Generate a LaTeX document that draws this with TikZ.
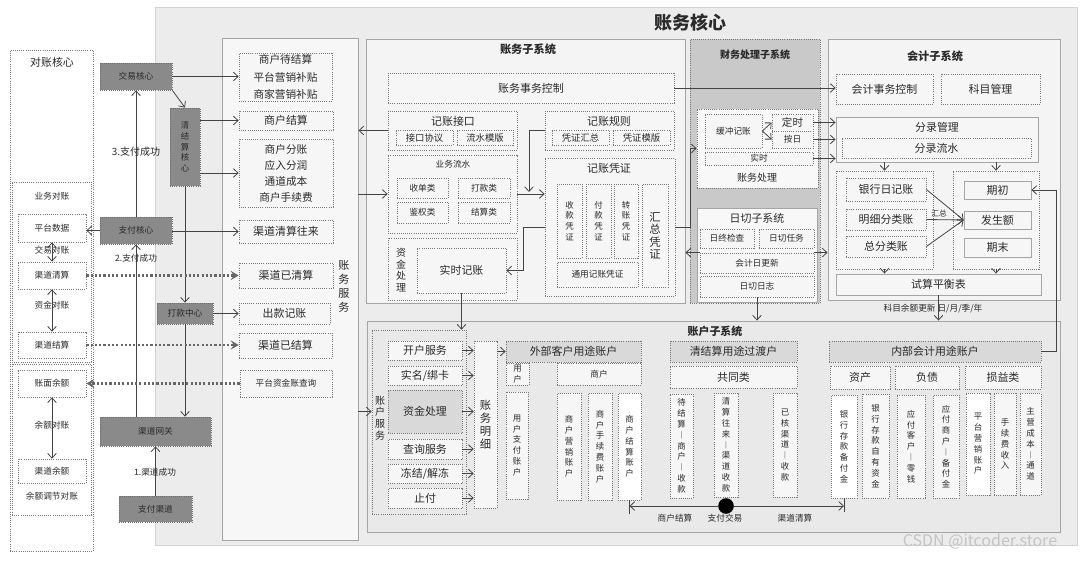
\documentclass[tikz,border=0pt]{standalone}
\usepackage{fontspec}
\setmainfont{Noto Sans CJK SC}
\usetikzlibrary{arrows.meta}
\definecolor{cMain}{HTML}{ECECEC}
\definecolor{cMainB}{HTML}{D2D2D2}
\definecolor{cPanel}{HTML}{F7F7F7}
\definecolor{cSub}{HTML}{F4F4F4}
\definecolor{cFin}{HTML}{C9C9C9}
\definecolor{cAcct}{HTML}{E9E9E9}
\definecolor{cBox}{HTML}{F6F6F6}
\definecolor{cBox2}{HTML}{F8F8F8}
\definecolor{cHead}{HTML}{D9D9D9}
\definecolor{cGray}{HTML}{8A8A8A}
\definecolor{cGB}{HTML}{6E6E6E}
\definecolor{cDB}{HTML}{777777}
\definecolor{cSB}{HTML}{A5A5A5}
\definecolor{cT}{HTML}{2A2A2A}
\definecolor{cL}{HTML}{444444}
\definecolor{cL2}{HTML}{666666}
\definecolor{cWM}{HTML}{C4C4C4}
\newcommand\bx[7][]{%
  \pgfmathsetmacro\mybw{(#5-#3)*0.75}%
  \pgfmathsetmacro\mybh{(#6-#4)*0.75}%
  \node[#1,minimum width=\mybw pt,minimum height=\mybh pt] (#2) at ({(#3+#5)/2},{(#4+#6)/2}) {#7};}
\begin{document}
\begin{tikzpicture}[x=0.75pt,y=-0.75pt,
  every node/.style={align=center,inner sep=0pt,text=cT},
  dbox/.style={draw=cDB,densely dotted,line width=0.6pt,fill=cBox},
  sbox/.style={draw=cSB,line width=0.7pt,fill=cBox},
  gbox/.style={draw=cGB,densely dotted,line width=0.6pt,fill=cGray,font=\fontsize{6.5}{8}\selectfont},
  arr/.style={draw=cL,line width=0.6pt,-{Straight Barb[length=3.5pt,width=6.5pt]}},
  darr/.style={draw=cL,line width=0.6pt,{Straight Barb[length=3.5pt,width=6.5pt]}-{Straight Barb[length=3.5pt,width=6.5pt]}},
  thk/.style={draw=cL2,line width=1.6pt,dash pattern=on 1.6pt off 1.6pt,-{Stealth[length=6pt,width=7pt,inset=2.5pt]}},
  fa/.style={font=\fontsize{6.5}{8}\selectfont},
  fb/.style={font=\fontsize{8.2}{10}\selectfont},
  fc/.style={font=\fontsize{7}{8.5}\selectfont},
  fv/.style={font=\fontsize{6.3}{8.1}\selectfont},
  dot/.style={circle,fill=black,minimum size=11.7pt,inner sep=0pt}
]
\useasboundingbox (0,0) rectangle (1080,561);
\fill[white] (0,0) rectangle (1080,561);

% ===== main frame
\bx[draw=cMainB,fill=cMain,line width=0.7pt]{core}{155}{7}{1077}{545}{}
\node[font=\fontsize{13.5}{16}\selectfont\bfseries] (coreT) at (690,23) {账务核心};

% ===== left panel
\bx[dbox,fill=white]{recon}{10}{50}{93}{551}{}
\node[fb] (reconT) at (52,62) {对账核心};
\bx[dbox,fill=white]{biz}{12}{182}{91}{362}{}
\bx[dbox,fill=white]{bal}{12}{364}{91}{515}{}
\node[fa] (bizT) at (52,196) {业务对账};
\bx[dbox,fill=white,fa]{pd}{18}{214}{86}{242}{平台数据}
\bx[dbox,fill=white,fa]{qs}{18}{262}{86}{289}{渠道清算}
\bx[dbox,fill=white,fa]{js}{18}{332}{86}{358}{渠道结算}
\bx[dbox,fill=white,fa]{zm}{18}{370}{86}{397}{账面余额}
\bx[dbox,fill=white,fa]{qy}{18}{459}{86}{483}{渠道余额}
\draw[darr] (pd.south) -- (qs.north);
\draw[darr] (qs.south) -- (js.north);
\draw[darr] (zm.south) -- (qy.north);
\node[fa] (l1) at (52,250) {交易对账};
\node[fa] (l2) at (52,305) {资金对账};
\node[fa] (l3) at (52,425) {余额对账};
\node[fa] (l4) at (52,496) {余额调节对账};

% ===== gray systems
\bx[gbox]{trade}{100}{63}{172}{90}{交易核心}
\bx[gbox,font=\fontsize{6.3}{8}\selectfont]{clear}{170}{108}{200}{186}{清\\结\\算\\核\\心}
\bx[gbox]{pay}{100}{217}{172}{244}{支付核心}
\bx[gbox]{payout}{157}{303}{213}{324}{打款中心}
\bx[gbox]{gw}{100}{417}{211}{446}{渠道网关}
\bx[gbox]{chan}{119}{496}{192}{522}{支付渠道}
\draw[arr] (chan.north) -- (gw.south);
\draw[arr] (gw.north -| pay.south) -- (pay.south);
\draw[arr] (pay.north) -- (trade.south);
\draw[arr] (trade.south east) -- (clear.north);
\draw[arr] (clear.south) -- (payout.north);
\draw[arr] (payout.south) -- (gw.north -| payout.south);
\draw[arr] (pay.west) -- (pay.west -| pd.east);
\node[font=\fontsize{7.5}{9}\selectfont] (m3) at (136,152) {3.支付成功};
\node[fa] (m2) at (136,258) {2.支付成功};
\node[fa] (m1) at (155,472) {1.渠道成功};

% ===== 账务服务
\bx[sbox,fill=cPanel]{svc}{222}{38}{358}{540}{}
\bx[dbox,font=\fontsize{8}{13}\selectfont]{s1}{239}{53}{332}{101}{商户待结算\\平台营销补贴\\商家营销补贴}
\bx[dbox,fb]{s2}{239}{111}{333}{130}{商户结算}
\bx[dbox,font=\fontsize{8}{12}\selectfont]{s3}{239}{139}{333}{207}{商户分账\\应入分润\\通道成本\\商户手续费}
\bx[dbox,fb]{s4}{239}{220}{333}{243}{渠道清算往来}
\bx[dbox,fb]{s5}{239}{263}{333}{288}{渠道已清算}
\bx[dbox,fb]{s6}{239}{303}{330}{324}{出款记账}
\bx[dbox,fb]{s7}{239}{333}{332}{358}{渠道已结算}
\bx[dbox,fa]{s8}{240}{370}{332}{397}{平台资金账查询}
\node[font=\fontsize{8.3}{10.5}\selectfont] (svcL) at (344,286) {账\\务\\服\\务};
\draw[arr] (trade.east) -- (trade.east -| s1.west);
\draw[arr] (clear.east |- s2.west) -- (s2.west);
\draw[arr] (clear.east |- s3.west) -- (s3.west);
\draw[arr] (pay.east |- s4.west) -- (s4.west);
\draw[arr] (payout.east) -- (payout.east -| s6.west);
\draw[thk] (qs.east) -- (qs.east -| s5.west);
\draw[thk] (js.east) -- (js.east -| s7.west);
\draw[thk] (s8.west) -- (s8.west -| zm.east);

% ===== 账务子系统
\bx[sbox,fill=cSub]{acc}{366}{39}{685}{303}{}
\node[font=\fontsize{8.4}{10}\selectfont\bfseries] (accT) at (528,49) {账务子系统};
\bx[dbox,fb]{swkz}{388}{73}{674}{103}{账务事务控制}
\bx[dbox]{jz}{388}{111}{517}{150}{}
\node[fb] (jzT) at (453,121) {记账接口};
\bx[dbox,fc]{jz1}{396}{130}{453}{145}{接口协议}
\bx[dbox,fc]{jz2}{457}{130}{513}{145}{流水模版}
\bx[dbox]{gz}{545}{111}{674}{150}{}
\node[fb] (gzT) at (609,121) {记账规则};
\bx[dbox,fc]{gz1}{552}{130}{609}{145}{凭证汇总}
\bx[dbox,fc]{gz2}{613}{130}{670}{145}{凭证模版}
\bx[dbox]{ls}{388}{155}{517}{233}{}
\node[fa] (lsT) at (453,164) {业务流水};
\bx[dbox,fa]{ls1}{397}{178}{448}{198}{收单类}
\bx[dbox,fa]{ls2}{458}{178}{510}{198}{打款类}
\bx[dbox,fa]{ls3}{397}{202}{448}{223}{鉴权类}
\bx[dbox,fa]{ls4}{458}{202}{510}{223}{结算类}
\bx[dbox]{zjcl}{388}{238}{517}{300}{}
\node[font=\fontsize{7.5}{8.8}\selectfont] (zjclT) at (401,270) {资\\金\\处\\理};
\bx[dbox,fb]{ss}{417}{248}{506}{293}{实时记账}
\bx[dbox]{pz}{545}{158}{675}{296}{}
\node[fb] (pzT) at (609,168) {记账凭证};
\bx[dbox,fv]{pz1}{557}{184}{582}{258}{收\\款\\凭\\证}
\bx[dbox,fv]{pz2}{586}{184}{611}{258}{付\\款\\凭\\证}
\bx[dbox,fv]{pz3}{614}{184}{638}{258}{转\\账\\凭\\证}
\bx[dbox,font=\fontsize{8.5}{9.4}\selectfont]{pz4}{642}{184}{668}{287}{汇\\总\\凭\\证}
\bx[dbox,fa]{pz5}{557}{262}{638}{287}{通用记账凭证}
\draw[arr] (jz.west) -- (jz.west -| svc.east);
\draw[arr] (svc.east |- ls.west) -- (ls.west);
\draw[arr] (ls.east) -- (ls.east -| pz.west);
\coordinate (gzd) at (529,192);
\draw[arr] (gz.west) -| (gzd);
\draw[arr] (pz.west) -- ++(-21,0) |- (ss.east);

% ===== 财务处理子系统
\bx[dbox,fill=cFin]{fin}{690}{39}{820}{303}{}
\node[font=\fontsize{7.5}{9}\selectfont\bfseries] (finT) at (755,55) {财务处理子系统};
\bx[dbox,fill=cBox2]{zwcl}{697}{109}{818}{188}{}
\node[font=\fontsize{7.5}{9}\selectfont] (zwclT) at (757,178) {账务处理};
\bx[dbox,fa]{hc}{705}{114}{762}{148}{缓冲记账}
\bx[dbox,font=\fontsize{7.9}{9}\selectfont]{ds}{772}{114}{813}{131}{定时}
\bx[dbox,fa]{ar}{772}{131}{813}{148}{按日}
\bx[dbox,fa]{sh}{705}{152}{813}{165}{实时}
\draw[arr] (hc.east) -- (ds.west);
\draw[arr] (hc.east) -- (ar.west);
\bx[sbox,fill=cBox2]{rq}{697}{208}{817}{302}{}
\node[fb] (rqT) at (757,218) {日切子系统};
\bx[dbox,fa]{rq1}{700}{229}{754}{248}{日终检查}
\bx[dbox,fa]{rq2}{759}{229}{814}{248}{日切任务}
\bx[dbox,fa]{rq3}{700}{253}{814}{273}{会计日更新}
\bx[dbox,fa]{rq4}{700}{276}{814}{297}{日切日志}
\draw[arr] (pz.east) -- ++(15,0) |- (zwcl.west);

% ===== 会计子系统
\bx[sbox,fill=cSub]{kj}{828}{39}{1060}{300}{}
\node[font=\fontsize{8.4}{10}\selectfont\bfseries] (kjT) at (935,56) {会计子系统};
\bx[dbox,fb]{kjkz}{836}{74}{933}{104}{会计事务控制}
\bx[dbox,fb]{kmgl}{941}{74}{1040}{104}{科目管理}
\bx[sbox]{flgl}{836}{117}{1038}{162}{}
\node[fb] (flglT) at (937,127) {分录管理};
\bx[dbox,fb]{fllw}{842}{138}{1031}{158}{分录流水}
\bx[dbox]{lg}{836}{171}{933}{269}{}
\bx[dbox]{rg}{953}{171}{1039}{269}{}
\bx[dbox,fb]{yh}{846}{178}{926}{201}{银行日记账}
\bx[dbox,fb]{mx}{846}{209}{926}{230}{明细分类账}
\bx[dbox,fb]{zfl}{846}{236}{926}{257}{总分类账}
\bx[sbox,fb]{qc}{964}{181}{1031}{199}{期初}
\bx[sbox,fb]{fse}{964}{211}{1031}{229}{发生额}
\bx[sbox,fb]{qm}{964}{238}{1031}{257}{期末}
\bx[sbox,fb]{sp}{836}{274}{1041}{295}{试算平衡表}
\draw[arr] (yh.east) -- (fse.west);
\draw[arr] (mx.east) -- (fse.west);
\draw[arr] (zfl.east) -- (fse.west);
\node[font=\fontsize{5.8}{7}\selectfont] (hz) at (939,214) {汇总};
\draw[arr] (lg.north |- flgl.south) -- (lg.north);
\draw[arr] (rg.north |- flgl.south) -- (rg.north);
\draw[arr] (lg.south) -- (lg.south |- sp.north);
\draw[arr] (rg.south) -- (rg.south |- sp.north);
\draw[arr] (swkz.east) -- (swkz.east -| kjkz.west);
\draw[arr] (ds.east) -- (ds.east -| flgl.west);
\draw[arr] (ar.east) -- (ar.east -| flgl.west);
\draw[arr] (sh.east) -- (sh.east -| flgl.west);
\draw[arr] (rq3.north west) -- (rq3.north west -| acc.east);
\draw[arr] (rq3.north east) -- (rq3.north east -| kj.west);

% ===== 账户子系统
\bx[sbox,fill=cAcct]{zh}{367}{321}{1060}{532}{}
\node[font=\fontsize{8.2}{10}\selectfont\bfseries] (zhT) at (715,331) {账户子系统};
\bx[dbox,fill=cAcct]{zhfw}{372}{330}{466}{514}{}
\node[font=\fontsize{7.5}{8.8}\selectfont] (zhfwT) at (380,418) {账\\户\\服\\务};
\bx[dbox,fb]{k1}{388}{341}{462}{360}{开户服务}
\bx[dbox,fb]{k2}{388}{366}{462}{385}{实名/绑卡}
\bx[dbox,fb,fill=cHead]{k3}{388}{390}{462}{433}{资金处理}
\bx[dbox,fb]{k4}{388}{439}{462}{459}{查询服务}
\bx[dbox,fb]{k5}{388}{464}{462}{483}{冻结/解冻}
\bx[dbox,fb]{k6}{388}{488}{462}{508}{止付}
\bx[dbox,font=\fontsize{8.5}{9.8}\selectfont]{zwmx}{474}{341}{497}{508}{账\\务\\明\\细}
\foreach \k in {k1,k2,k3,k4,k5,k6}{\draw[arr] (\k.east) -- (\k.east -| zwmx.west);}
\bx[dbox,fb,fill=cHead]{wb}{506}{341}{641}{362}{外部客户用途账户}
\bx[dbox,fv]{yhh}{506}{363}{529}{385}{用\\户}
\bx[dbox,fa]{shh}{557}{363}{641}{385}{商户}
\bx[dbox,fv]{a1}{506}{392}{528}{499}{用\\户\\支\\付\\账\\户}
\bx[dbox,fv]{a2}{557}{393}{581}{500}{商\\户\\营\\销\\账\\户}
\bx[dbox,fv]{a3}{588}{393}{612}{500}{商\\户\\手\\续\\费\\账\\户}
\bx[dbox,fv,fill=white]{a4}{618}{393}{641}{500}{商\\户\\结\\算\\账\\户}
\bx[dbox,fb,fill=cHead]{qj}{670}{341}{797}{362}{清结算用途过渡户}
\bx[dbox,fb]{gt}{670}{366}{797}{388}{共同类}
\bx[dbox,fv]{b1}{670}{394}{693}{498}{待\\结\\算\\︱\\商\\户\\︱\\收\\款}
\bx[dbox,fv]{b2}{714}{393}{738}{497}{清\\算\\往\\来\\︱\\渠\\道\\收\\款}
\bx[dbox,fv]{b3}{773}{393}{797}{497}{已\\核\\渠\\道\\︱\\收\\款}
\bx[dbox,fb,fill=cHead]{nb}{829}{341}{1041}{362}{内部会计用途账户}
\bx[dbox,fb]{zc}{830}{366}{890}{389}{资产}
\bx[dbox,fb]{fz}{895}{366}{959}{389}{负债}
\bx[dbox,fb]{sy}{965}{366}{1041}{389}{损益类}
\bx[dbox,fv,fill=white]{c1}{831}{395}{857}{498}{银\\行\\存\\款\\备\\付\\金}
\bx[dbox,fv]{c2}{862}{394}{889}{498}{银\\行\\存\\款\\自\\有\\资\\金}
\bx[dbox,fv]{c3}{897}{395}{925}{498}{应\\付\\客\\户\\︱\\零\\钱}
\bx[dbox,fv]{c4}{933}{395}{959}{498}{应\\付\\商\\户\\︱\\备\\付\\金}
\bx[dbox,fv,fill=white]{c5}{966}{393}{990}{495}{平\\台\\营\\销\\账\\户}
\bx[dbox,fv]{c6}{994}{393}{1016}{495}{手\\续\\费\\收\\入}
\bx[dbox,fv]{c7}{1020}{393}{1041}{495}{主\\营\\成\\本\\︱\\通\\道}
\draw[arr] (zwmx.east |- wb.west) -- (wb.west);
\draw[arr] (svc.east |- k3.west) -- (zhfw.west |- k3.west);

% bottom flow
\node[dot] (dot) at (726,506) {};
\draw[cL,line width=0.6pt] (a4.south) -- ++(0,14);
\draw[cL,line width=0.6pt] (c1.south) -- ++(0,14);
\draw[arr] (dot.west) -- (dot.west -| a4.south);
\draw[arr] (dot.east) -- (dot.east -| c1.south);
\node[fa] (t1) at (675,518) {商户结算};
\node[fa] (t2) at (725,518) {支付交易};
\node[fa] (t3) at (795,518) {渠道清算};

% cross-system arrows
\draw[arr] (ss.south) -- (ss.south |- zhfw.north);
\draw[arr] (rq4.south) -- (rq4.south |- zh.north);
\draw[arr] (sp.south) -- (sp.south |- zh.north);
\node[fa] (kmL) at (933,309) {科目余额更新 日/月/季/年};
\draw[arr] (nb.east) -- ++(15,0) |- (qc.east);

% watermark
\node[font=\fontsize{12}{14}\selectfont,text=cWM] (wm) at (980,542) {CSDN @itcoder.store};
\end{tikzpicture}
\end{document}
